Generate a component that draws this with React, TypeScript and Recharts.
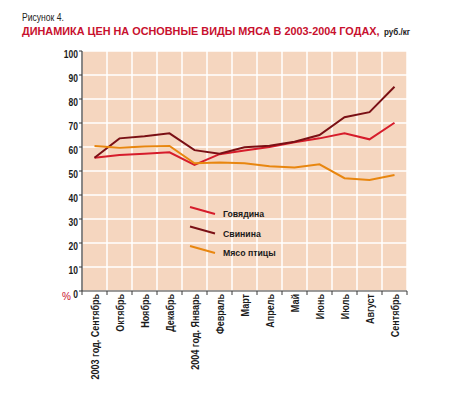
import { CartesianGrid, Line, LineChart, XAxis, YAxis } from "recharts";

const MONTHS = [
  "2003 год. Сентябрь",
  "Октябрь",
  "Ноябрь",
  "Декабрь",
  "2004 год. Январь",
  "Февраль",
  "Март",
  "Апрель",
  "Май",
  "Июнь",
  "Июль",
  "Август",
  "Сентябрь",
];

const BEEF = [55.5, 56.7, 57.2, 57.8, 52.5, 57, 58.5, 60, 62, 63.6, 65.7, 63.2, 70.1];
const PORK = [55.5, 63.6, 64.5, 65.7, 58.7, 57.2, 59.9, 60.5, 62.2, 65, 72.4, 74.5, 85.1];
const POULTRY = [60.4, 59.7, 60.2, 60.4, 53.2, 53.5, 53.2, 52, 51.5, 52.8, 47, 46.3, 48.3];

const Y_TICKS = [0, 10, 20, 30, 40, 50, 60, 70, 80, 90, 100];
const X_EDGES = MONTHS.map((_, i) => i).concat(MONTHS.length);

const SERIES = [
  { key: "beef", name: "Говядина", color: "#d61c2b" },
  { key: "pork", name: "Свинина", color: "#7a1015" },
  { key: "poultry", name: "Мясо птицы", color: "#e8860f" },
];

const data = MONTHS.map((m, i) => ({
  x: i + 0.5,
  month: m,
  beef: BEEF[i],
  pork: PORK[i],
  poultry: POULTRY[i],
}));

const FONT = "'Liberation Sans', Arial, sans-serif";
const HALF_BAND = 12.5;

function MonthTick({ x, y, payload }: { x?: number; y?: number; payload?: { value: number } }) {
  const i = payload?.value ?? 0;
  if (i >= MONTHS.length) return null;
  const bx = (x ?? 0) + HALF_BAND + 4;
  const by = (y ?? 0) - 3;
  return (
    <g transform={`translate(${bx}, ${by}) rotate(-90) scale(0.82, 1)`}>
      <text x={0} y={0} textAnchor="end" fontFamily={FONT} fontWeight="bold" fontSize={11} fill="#1a1a1a">
        {MONTHS[i]}
      </text>
    </g>
  );
}

function ValueTick({ x, y, payload }: { x?: number; y?: number; payload?: { value: number } }) {
  return (
    <g transform={`translate(${(x ?? 0) + 1}, ${(y ?? 0) + 7}) scale(0.85, 1)`}>
      <text x={0} y={0} textAnchor="end" fontFamily={FONT} fontWeight="bold" fontSize={10} fill="#1a1a1a">
        {payload?.value}
      </text>
    </g>
  );
}

export default function App() {
  return (
    <div style={{ position: "absolute", left: 0, top: 0, width: 457, height: 398, background: "#fff" }}>
      <svg width={457} height={48} style={{ position: "absolute", left: 0, top: 0 }}>
        <g transform="translate(22, 21) scale(0.78, 1)">
          <text x={0} y={0} fontFamily={FONT} fontSize={11} fill="#222">
            Рисунок 4.
          </text>
        </g>
        <g transform="translate(22, 35) scale(0.945, 1)">
          <text x={0} y={0} fontFamily={FONT} fontWeight="bold" fontSize={11.5} fill="#c8102e">
            ДИНАМИКА ЦЕН НА ОСНОВНЫЕ ВИДЫ МЯСА В 2003-2004 ГОДАХ,
          </text>
        </g>
        <g transform="translate(384, 35) scale(0.85, 1)">
          <text x={0} y={0} fontFamily={FONT} fontWeight="bold" fontSize={9.5} fill="#1a1a1a">
            руб./кг
          </text>
        </g>
      </svg>
      <LineChart
        width={457}
        height={398}
        data={data}
        margin={{ top: 51, right: 50, bottom: 0, left: 0 }}
        style={{ position: "absolute", left: 0, top: 0 }}
      >
        <CartesianGrid stroke="#ffffff" strokeWidth={1.5} fill="#f5d6bf" fillOpacity={1} />
        <XAxis
          dataKey="x"
          type="number"
          domain={[0, MONTHS.length]}
          ticks={X_EDGES}
          interval={0}
          height={107}
          tick={<MonthTick />}
          tickSize={4}
          stroke="#3a3a3a"
          tickLine={{ stroke: "#3a3a3a" }}
          axisLine={{ stroke: "#3a3a3a", strokeWidth: 1.2 }}
        />
        <YAxis
          type="number"
          domain={[0, 100]}
          ticks={Y_TICKS}
          interval={0}
          width={82}
          tick={<ValueTick />}
          tickSize={3}
          tickLine={{ stroke: "#3a3a3a" }}
          axisLine={{ stroke: "#3a3a3a", strokeWidth: 1.2 }}
        />
        {SERIES.map((s) => (
          <Line
            key={s.key}
            type="linear"
            dataKey={s.key}
            name={s.name}
            stroke={s.color}
            strokeWidth={2}
            dot={false}
            isAnimationActive={false}
          />
        ))}
      </LineChart>
      <div
        style={{
          position: "absolute",
          left: 62,
          top: 291,
          color: "#c8102e",
          fontFamily: FONT,
          fontSize: 10,
        }}
      >
        %
      </div>
      <svg width={120} height={60} style={{ position: "absolute", left: 185, top: 200 }}>
        {SERIES.map((s, i) => (
          <g key={s.key}>
            <line x1={5} y1={7 + i * 19.5} x2={30} y2={14 + i * 19.5} stroke={s.color} strokeWidth={2} />
            <g transform={`translate(38, ${17 + i * 19.5}) scale(0.92, 1)`}>
              <text x={0} y={0} fontFamily={FONT} fontWeight="bold" fontSize={9.5} fill="#1a1a1a">
                {s.name}
              </text>
            </g>
          </g>
        ))}
      </svg>
    </div>
  );
}
